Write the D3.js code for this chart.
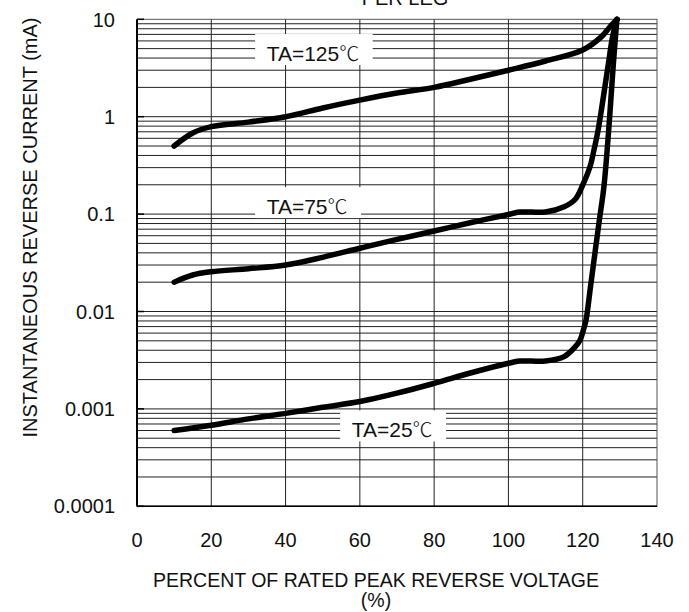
<!DOCTYPE html>
<html>
<head>
<meta charset="utf-8">
<script src="https://d3js.org/d3.v7.min.js"></script>
<style>
  body { margin: 0; background: #fff; }
  text { font-family: "Liberation Sans", Arial, sans-serif; fill: #111; }
</style>
</head>
<body>
<div id="chart"></div>
<script>
// Values
const xTicks = [0, 20, 40, 60, 80, 100, 120, 140];
const yTicks = [0.0001, 0.001, 0.01, 0.1, 1, 10];
const yTickLabels = ["0.0001", "0.001", "0.01", "0.1", "1", "10"];

const percent125 = [10, 15, 20, 30, 40, 50, 60, 70, 80, 90, 100, 110, 120, 125, 127.5, 129.3];
const current125 = [0.5, 0.68, 0.79, 0.88, 1.0, 1.23, 1.48, 1.75, 2.0, 2.44, 3.0, 3.73, 4.84, 6.6, 8.5, 10];

const percent75 = [10, 15, 20, 30, 40, 50, 60, 70, 80, 90, 100, 103, 110, 115, 118, 120, 122, 123, 124, 125, 127, 128, 129.2];
const current75 = [0.02, 0.0237, 0.0256, 0.0275, 0.030, 0.036, 0.0446, 0.055, 0.067, 0.082, 0.099, 0.105, 0.105, 0.119, 0.142, 0.199, 0.31, 0.45, 0.68, 1.15, 3.7, 6.5, 10];

const percent25 = [10, 20, 30, 40, 50, 60, 70, 80, 90, 100, 103, 110, 115, 118, 119.3, 120.2, 120.9, 122.1, 123.3, 124.5, 125.7, 127.2, 128.2, 129.2];
const current25 = [0.0006, 0.00068, 0.00079, 0.0009, 0.00104, 0.00119, 0.00145, 0.00183, 0.00235, 0.00294, 0.0031, 0.0031, 0.00344, 0.00435, 0.0051, 0.0065, 0.0082, 0.018, 0.04, 0.088, 0.19, 0.93, 3.3, 10];

const labelTexts = ["TA=125", "TA=75", "TA=25"];
const labelPercent = [34.9, 34.9, 57.8];
const labelCurrent = [3.73, 0.1, 0.00051];

const W = 689, H = 612;
const margin = { top: 19.3, right: 32, bottom: 105.7, left: 137 },
    width = W - margin.left - margin.right,
    height = H - margin.top - margin.bottom;

const svg = d3.select("#chart").append("svg")
    .attr("width", W)
    .attr("height", H);

const g = svg.append("g")
    .attr("transform", `translate(${margin.left},${margin.top})`);

const x = d3.scaleLinear().domain([0, 140]).range([0, width]);
const y = d3.scaleLog().domain([0.0001, 10]).range([height, 0]);

// horizontal log grid (2..9 of each decade plus the decades)
const minor = [];
for (let e = -4; e < 1; e++) {
    for (let k = 1; k < 10; k++) minor.push(k * Math.pow(10, e));
}
g.append("g").selectAll("line")
    .data(minor)
    .join("line")
    .attr("x1", 0).attr("x2", width)
    .attr("y1", d => y(d)).attr("y2", d => y(d))
    .attr("stroke", "#222")
    .attr("stroke-width", 1);

// vertical grid
g.append("g").selectAll("line")
    .data(xTicks.slice(1, -1))
    .join("line")
    .attr("x1", d => x(d)).attr("x2", d => x(d))
    .attr("y1", 0).attr("y2", height)
    .attr("stroke", "#222")
    .attr("stroke-width", 1);

// frame
g.append("rect")
    .attr("width", width).attr("height", height)
    .attr("fill", "none")
    .attr("stroke", "#555")
    .attr("stroke-width", 1);
g.append("line").attr("x1", 0).attr("x2", 0).attr("y1", 0).attr("y2", height)
    .attr("stroke", "#000").attr("stroke-width", 2);
g.append("line").attr("x1", 0).attr("x2", width).attr("y1", height).attr("y2", height)
    .attr("stroke", "#000").attr("stroke-width", 1.5);

// short inner ticks on the decades
g.append("g").selectAll("line")
    .data(yTicks)
    .join("line")
    .attr("x1", 0).attr("x2", 7)
    .attr("y1", d => y(d)).attr("y2", d => y(d))
    .attr("stroke", "#000")
    .attr("stroke-width", 1.5);

// label boxes (white patches over the grid) + labels
labelTexts.forEach((t, i) => {
    const lg = g.append("g");
    const box = lg.append("rect").attr("fill", "#fff");
    const txt = lg.append("text")
        .attr("x", x(labelPercent[i]))
        .attr("y", y(labelCurrent[i]))
        .attr("font-size", "21px");
    txt.append("tspan").text(t);
    txt.append("tspan")
        .style("font-family", "'Noto Sans CJK SC', 'DejaVu Sans', sans-serif")
        .style("font-weight", 300)
        .attr("font-size", "20px")
        .text("\u2103");
    const bb = txt.node().getBBox();
    box.attr("x", bb.x - 11.5)
        .attr("y", y(labelCurrent[i]) - 27)
        .attr("width", bb.width + 25)
        .attr("height", 31);
});

// curves
const line = d3.line()
    .x(d => x(d[0]))
    .y(d => y(d[1]))
    .curve(d3.curveCatmullRom.alpha(0.5));

[[percent125, current125], [percent75, current75], [percent25, current25]].forEach(([px, cy]) => {
    g.append("path")
        .datum(px.map((v, i) => [v, cy[i]]))
        .attr("d", line)
        .attr("fill", "none")
        .attr("stroke", "#000")
        .attr("stroke-width", 5.5)
        .attr("stroke-linecap", "round")
        .attr("stroke-linejoin", "round");
});

// tick labels
g.append("g").selectAll("text")
    .data(yTicks)
    .join("text")
    .attr("x", -22)
    .attr("y", d => y(d))
    .attr("dy", "0.36em")
    .attr("text-anchor", "end")
    .attr("font-size", "20px")
    .text((d, i) => yTickLabels[i]);

g.append("g").selectAll("text")
    .data(xTicks)
    .join("text")
    .attr("x", d => x(d))
    .attr("y", height + 40.4)
    .attr("text-anchor", "middle")
    .attr("font-size", "20px")
    .text(d => d);

// axis titles
svg.append("text")
    .attr("x", 376)
    .attr("y", 586.7)
    .attr("text-anchor", "middle")
    .attr("font-size", "19.5px")
    .text("PERCENT OF RATED PEAK REVERSE VOLTAGE");
svg.append("text")
    .attr("x", 376)
    .attr("y", 607)
    .attr("text-anchor", "middle")
    .attr("font-size", "19.5px")
    .text("(%)");

svg.append("text")
    .attr("transform", "rotate(-90)")
    .attr("x", -227.5)
    .attr("y", 37.3)
    .attr("text-anchor", "middle")
    .attr("font-size", "20px")
    .text("INSTANTANEOUS REVERSE CURRENT (mA)");

// title, cut by the top edge as in the reference
svg.append("text")
    .attr("x", 405)
    .attr("y", 5)
    .attr("text-anchor", "middle")
    .attr("font-size", "20px")
    .text("PER LEG");
</script>
</body>
</html>
